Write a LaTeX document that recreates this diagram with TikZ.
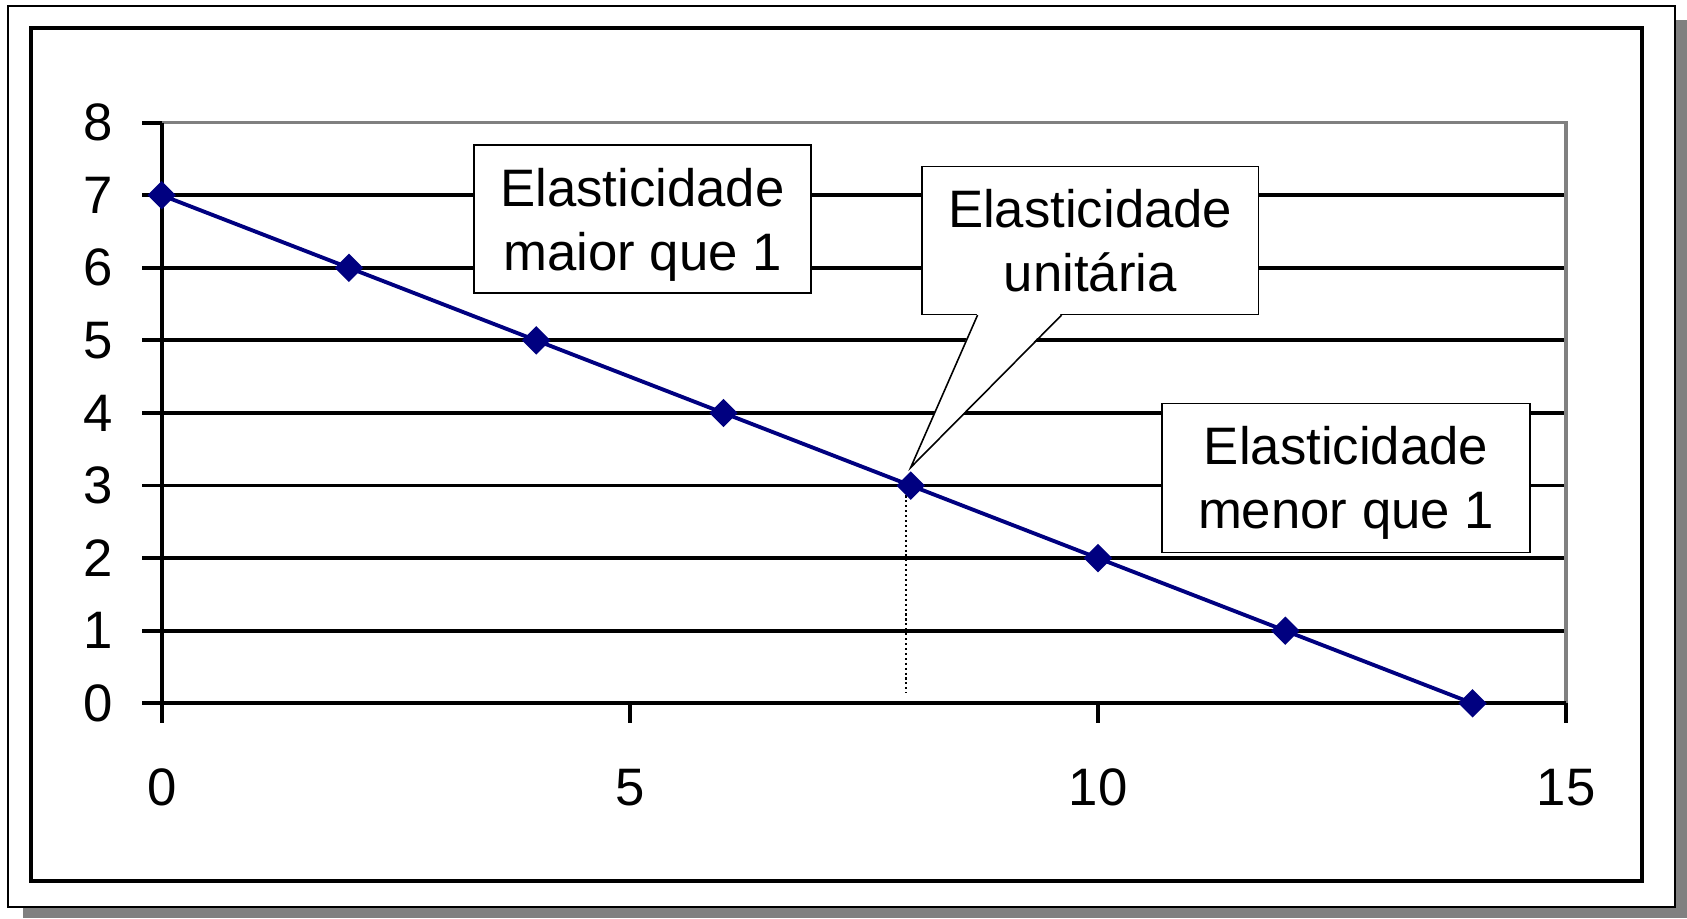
\documentclass[tikz,border=0pt]{standalone}
\usepackage{fontspec}
\setmainfont{Liberation Sans}
\usepackage{tikz}
\usetikzlibrary{shapes.geometric,calc,positioning}

\definecolor{navyblue}{RGB}{0,0,128}
\definecolor{shadowgray}{RGB}{128,128,128}

\begin{document}
\begin{tikzpicture}[gridline/.style={line width=1.1pt,black}, ticklabel/.style={inner sep=0pt,font=\fontsize{15}{18.2}\selectfont}]
	\tikzset{notebox/.style={draw=black,line width=0.45pt,fill=white,align=center,inner sep=0pt,font=\fontsize{15}{18.2}\selectfont}}
	\tikzset{pointmark/.style={diamond,fill=navyblue,inner sep=0pt,minimum size=0.29cm}}
	\useasboundingbox (0,0) rectangle (16.87,9.18);

	\fill[shadowgray] (0.23,0) rectangle (16.87,8.98);
	\draw[fill=white,line width=0.6pt] (0.083,0.107) rectangle (16.753,9.12);
	\draw[line width=1.2pt] (0.307,0.367) rectangle (16.42,8.897);

	\begin{scope}[shift={(1.617,2.147)},x=0.9363cm,y=0.7258cm]
		\foreach \y in {1,...,7} \draw[gridline] (0,\y) -- (15,\y);
		\draw[line width=1pt,shadowgray] (0,8) -- (15,8) -- (15,0);
		\draw[gridline] (0,8) -- (0,0) -- (15,0);
		\foreach \y in {0,...,8} {
			\draw[gridline] (0,\y) -- ++(-0.2cm,0);
			\node[ticklabel,anchor=east] (ylab\y) at ([xshift=-0.48cm]0,\y) {\y};
		}
		\foreach \x in {0,5,10,15} {
			\draw[gridline] (\x,0) -- ++(0,-0.2cm);
			\node[ticklabel] (xlab\x) at ([yshift=-0.84cm]\x,0) {\x};
		}

		\foreach \i in {0,...,7} \coordinate (c\i) at ({2*\i},{7-\i});
		\coordinate (foot) at (7.95,0.15);
		\coordinate (tip) at (8,3.25);

		\draw[line width=0.5pt,dash pattern=on 0.6pt off 0.8pt] (foot |- c4) -- (foot);
		\draw[navyblue,line width=1.1pt] (c0) -- (c7);
		\foreach \i in {0,...,7} \node[pointmark] (p\i) at (c\i) {};
	\end{scope}

	\node[notebox,minimum width=3.37cm,minimum height=1.48cm] (maior) at (6.425,6.99) {Elasticidade\\\smash{maior que 1}};
	\node[notebox,minimum width=3.363cm,minimum height=1.476cm] (unit) at (10.902,6.775) {Elasticidade\\unitária};
	\node[notebox,minimum width=3.68cm,minimum height=1.49cm] (menor) at (13.46,4.402) {Elasticidade\\\smash{menor que 1}};

	\fill[white] ($(unit.south west)+(0.563,0.02)$) -- (tip) -- ($(unit.south west)+(1.403,0.02)$) -- cycle;
	\draw[line width=0.45pt] ($(unit.south west)+(0.563,0)$) -- (tip) -- ($(unit.south west)+(1.403,0)$);

\end{tikzpicture}
\end{document}
